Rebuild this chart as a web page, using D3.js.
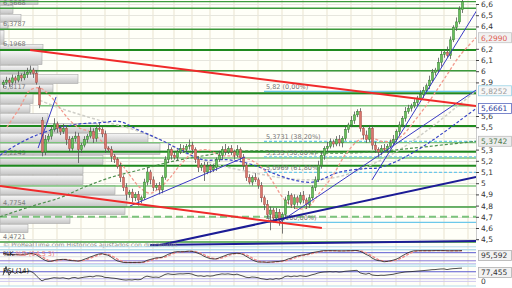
<!DOCTYPE html>
<html>
<head>
<meta charset="utf-8">
<script src="https://cdn.jsdelivr.net/npm/d3@7"></script>
<style>
  body { margin: 0; background: #fff; }
  svg { display: block; font-family: "DejaVu Sans", sans-serif; }
</style>
</head>
<body>
<svg id="chart" width="512" height="288"></svg>
<script>
// ---- data (prices, bar index = trading day) ----
var openP = [
  5.88,5.90,5.92,5.90,5.94,5.92,5.96,5.94,5.97,5.99,
  6.01,5.98,5.85,5.56,5.28,5.39,5.42,5.48,5.53,5.49,
  5.46,5.49,5.39,5.31,5.40,5.42,5.30,5.34,5.39,5.42,
  5.46,5.40,5.49,5.48,5.44,5.31,5.30,5.24,5.21,5.15,
  5.05,4.96,4.90,4.92,4.87,4.90,4.85,4.87,5.01,5.10,
  5.03,4.96,4.98,4.94,5.05,5.21,5.30,5.25,5.23,5.28,
  5.31,5.30,5.33,5.34,5.30,5.21,5.14,5.16,5.10,5.15,
  5.12,5.14,5.21,5.25,5.30,5.28,5.31,5.28,5.25,5.30,
  5.23,5.16,5.05,5.01,5.05,5.03,4.98,4.87,4.81,4.72,
  4.76,4.69,4.74,4.67,4.72,4.85,4.89,4.81,4.87,4.83,
  4.89,4.85,4.81,4.87,4.96,5.03,5.16,5.25,5.31,5.33,
  5.37,5.35,5.39,5.36,5.40,5.48,5.52,5.56,5.61,5.64,
  5.49,5.43,5.39,5.49,5.34,5.30,5.28,5.31,5.30,5.33,
  5.36,5.39,5.46,5.52,5.58,5.64,5.67,5.69,5.72,5.76,
  5.79,5.83,5.87,5.92,5.99,6.01,6.08,6.15,6.17,6.14,
  6.28,6.39,6.44,6.55
];
var closeP = [
  5.90,5.92,5.90,5.94,5.92,5.96,5.94,5.97,5.99,6.01,
  5.98,5.90,5.70,5.28,5.39,5.42,5.48,5.53,5.49,5.46,
  5.49,5.39,5.31,5.40,5.42,5.30,5.34,5.39,5.42,5.46,
  5.40,5.49,5.48,5.44,5.31,5.30,5.24,5.21,5.15,5.05,
  4.96,4.90,4.92,4.87,4.90,4.85,4.87,5.01,5.10,5.03,
  4.96,4.98,4.94,5.05,5.21,5.30,5.25,5.23,5.28,5.31,
  5.30,5.33,5.34,5.30,5.21,5.14,5.16,5.10,5.15,5.12,
  5.14,5.21,5.25,5.30,5.28,5.31,5.28,5.25,5.30,5.23,
  5.16,5.05,5.01,5.05,5.03,4.98,4.87,4.81,4.72,4.76,
  4.69,4.74,4.67,4.72,4.85,4.89,4.81,4.87,4.83,4.89,
  4.85,4.81,4.87,4.96,5.03,5.16,5.25,5.31,5.33,5.37,
  5.35,5.39,5.36,5.40,5.48,5.52,5.56,5.61,5.64,5.49,
  5.43,5.39,5.49,5.34,5.30,5.28,5.31,5.30,5.33,5.36,
  5.39,5.46,5.52,5.58,5.64,5.67,5.69,5.72,5.76,5.79,
  5.83,5.87,5.92,5.99,6.01,6.08,6.15,6.17,6.14,6.28,
  6.39,6.44,6.55,6.62
];
// wick lengths above / below the body
var wickUp = [
  0.02,0.03,0.02,0.03,0.02,0.04,0.02,0.03,0.04,0.04,
  0.02,0.03,0.02,0.03,0.04,0.02,0.03,0.05,0.02,0.03,
  0.04,0.02,0.03,0.02,0.04,0.03,0.02,0.03,0.02,0.04,
  0.03,0.02,0.05,0.02,0.03,0.02,0.03,0.02,0.02,0.03,
  0.02,0.04,0.02,0.03,0.02,0.03,0.02,0.03,0.04,0.02,
  0.03,0.02,0.03,0.02,0.03,0.04,0.02,0.03,0.02,0.04,
  0.03,0.02,0.05,0.03,0.02,0.03,0.02,0.03,0.04,0.02,
  0.03,0.02,0.04,0.03,0.05,0.02,0.03,0.02,0.04,0.02,
  0.03,0.02,0.03,0.02,0.04,0.02,0.03,0.02,0.04,0.03,
  0.02,0.04,0.03,0.02,0.03,0.04,0.02,0.03,0.02,0.03,
  0.04,0.02,0.03,0.02,0.03,0.04,0.03,0.02,0.04,0.03,
  0.02,0.03,0.04,0.02,0.03,0.02,0.04,0.03,0.02,0.03,
  0.02,0.04,0.03,0.02,0.03,0.02,0.03,0.04,0.02,0.03,
  0.04,0.02,0.03,0.02,0.04,0.03,0.02,0.03,0.02,0.04,
  0.03,0.02,0.04,0.03,0.02,0.04,0.03,0.02,0.05,0.03,
  0.02,0.04,0.03,0.04
];
var wickDn = [
  0.03,0.02,0.04,0.02,0.03,0.02,0.03,0.02,0.03,0.02,
  0.04,0.02,0.03,0.04,0.03,0.02,0.03,0.02,0.04,0.03,
  0.02,0.05,0.03,0.02,0.03,0.12,0.03,0.02,0.03,0.02,
  0.04,0.03,0.02,0.03,0.04,0.02,0.05,0.03,0.02,0.04,
  0.03,0.05,0.03,0.04,0.03,0.05,0.03,0.02,0.03,0.04,
  0.03,0.02,0.04,0.03,0.02,0.03,0.04,0.02,0.03,0.02,
  0.03,0.02,0.03,0.04,0.03,0.04,0.03,0.08,0.02,0.03,
  0.02,0.03,0.02,0.04,0.03,0.02,0.03,0.04,0.02,0.03,
  0.04,0.03,0.02,0.03,0.02,0.03,0.04,0.05,0.03,0.14,
  0.04,0.03,0.05,0.12,0.03,0.04,0.03,0.04,0.03,0.02,
  0.03,0.04,0.03,0.02,0.03,0.02,0.03,0.04,0.03,0.02,
  0.03,0.02,0.03,0.04,0.02,0.03,0.02,0.03,0.02,0.03,
  0.04,0.03,0.02,0.04,0.03,0.05,0.03,0.02,0.03,0.02,
  0.03,0.02,0.03,0.02,0.03,0.02,0.03,0.02,0.03,0.02,
  0.03,0.02,0.03,0.02,0.03,0.02,0.04,0.03,0.02,0.03,
  0.02,0.03,0.02,0.03
];

// volume by price (bin edges, top to bottom) and volume per bin
var vpEdges = [6.636,6.591,6.511,6.439,6.368,6.243,6.189,6.055,5.975,5.886,5.805,5.707,5.627,
               5.538,5.448,5.359,5.252,5.163,5.073,4.984,4.895,4.788,4.716,4.636,4.555];
var vpVolume = [38,13,21,8,4,43,42,38,78,53,33,30,48,97,148,160,103,83,83,115,127,125,70,28];
var vpLabels = [6.5668,6.3787,6.1968,5.8117,5.2249,4.7754,4.4721];

// horizontal support / resistance lines
var levels     = [6.621,6.562,6.374,6.189,6.004,5.803,5.692,5.511,5.362,5.281,5.225,5.156,4.975,4.788,4.70,4.475];
var levelKind  = ['mid','mid','mid','major','mid','major','minor','major','minor','major','minor','major','minor','mid','dash','mid'];
var levelStart = [-1,-1,-1,-1,-1,-1,12.3,-1,-1,-1,-1,-1,-1,-1,-1,-1];

// fibonacci retracement
var fibHigh = 5.82, fibLow = 4.65, fibStart = 87;
var fibRatios = [0, 0.382, 0.5, 0.618, 1];

// moving averages, read as [bar, price]
var maFast = [[1.3,5.50],[5.7,5.68],[9,5.83],[12.3,5.85],[15.7,5.78],[19,5.67],[22.3,5.56],[25.7,5.49],
  [29,5.46],[32.3,5.39],[35.7,5.30],[39,5.19],[42.3,5.07],[45.7,4.96],[49,4.91],[52.3,4.96],[55.7,5.05],
  [59,5.16],[63.3,5.27],[68,5.30],[72.3,5.25],[77.3,5.24],[82.3,5.21],[86.3,5.14],[90,5.01],[93.3,4.87],
  [97.3,4.78],[101.3,4.78],[105.7,4.92],[110,5.07],[114,5.25],[119,5.39],[123,5.40],[127.3,5.37],
  [132.3,5.41],[137.3,5.56],[142.3,5.74],[147.3,5.94],[152.3,6.14],[157.7,6.299]];
var maMid = [[-1,5.25],[5.7,5.36],[11.3,5.43],[18,5.49],[25.7,5.53],[32.3,5.54],[39,5.55],[44.7,5.48],
  [52.3,5.39],[59,5.30],[66.7,5.21],[74.7,5.21],[81.3,5.18],[85.7,5.14],[90,5.09],[96.7,5.03],[103.3,5.01],
  [112.3,5.10],[120.7,5.13],[125.7,5.14],[132.3,5.21],[139,5.31],[145.7,5.43],[152.3,5.56],[157.7,5.666]];
var maSlow = [[12.3,5.74],[19,5.67],[32.3,5.56],[42.3,5.49],[52.3,5.39],[62.3,5.25],[72.3,5.16],[82.3,5.10],
  [92.3,5.05],[102.3,5.03],[112.3,5.06],[122.3,5.16],[132.3,5.30],[142.3,5.49],[150.7,5.67],[157.7,5.825]];
var maLong = [[-1,4.70],[9,4.79],[19,4.87],[26.7,4.96],[35.7,5.05],[45.7,5.12],[55.7,5.19],[65.7,5.24],
  [75.7,5.28],[85.7,5.29],[95.7,5.28],[105.7,5.27],[115.7,5.27],[128,5.29],[139,5.32],[157.7,5.374]];

// trend lines, [[bar, price], [bar, price]]
var redLines  = [[[9,6.189],[157.7,5.689]], [[-1,4.975],[106.3,4.60]]];
var navyLines = [[[39,4.371],[157.7,5.055]], [[49,4.448],[157.7,4.484]]];
var blueLines = [[[11.7,5.314],[17.7,5.770]], [[42.3,4.796],[80.7,5.234]],
                 [[92.3,4.654],[157.7,5.832]], [[123,5.029],[158,6.546]]];

// last values shown on the right scale
var lastValues = [6.2990, 5.8252, 5.6661, 5.3742];
var lastKind   = ['fast', 'slow', 'mid', 'long'];

// right scale ticks (the ones the value boxes cover are left out)
var priceTicks = [4.5,4.6,4.7,4.8,4.9,5.0,5.1,5.2,5.3,5.5,5.6,5.9,6.0,6.1,6.2,6.4,6.5,6.6];

var gridBars = [2,10,18,26,34,42,50,57,63,69,77,85,93,100,108,116,123,131,139,147,155];

// ---- layout ----
var plotR = 476;
var svg = d3.select('#chart');
var comma = function(s) { return String(s).replace('.', ','); };

var x = d3.scaleLinear().domain([-1, 157.67]).range([0, plotR]);
var y = d3.scaleLinear().domain([4.5, 6.6]).range([239.2, 4]);
var yStoch = d3.scaleLinear().domain([0, 100]).range([263.5, 250]);
var yRsi = d3.scaleLinear().domain([0, 100]).range([284, 266.5]);
var vx = d3.scaleLinear().domain([0, 160]).range([0, 160]);

var defs = svg.append('defs');
defs.append('clipPath').attr('id', 'clipP').append('rect')
  .attr('x', 0).attr('y', 0).attr('width', plotR).attr('height', 246.5);
var grad = defs.append('linearGradient').attr('id', 'vpg')
  .attr('x1', 0).attr('y1', 0).attr('x2', 0).attr('y2', 1);
grad.append('stop').attr('offset', '0%').attr('stop-color', '#f6f6f6');
grad.append('stop').attr('offset', '100%').attr('stop-color', '#c6c6c6');

// panel backgrounds
svg.append('rect').attr('width', 512).attr('height', 288).attr('fill', '#fff');
[[0, 246.5], [249.5, 264.5], [266, 286]].forEach(function(p) {
  svg.append('rect').attr('x', 0).attr('y', p[0]).attr('width', plotR).attr('height', p[1] - p[0])
    .attr('fill', '#fffff8');
});

// vertical grid
svg.append('g').selectAll('line').data(gridBars).enter().append('line')
  .attr('x1', function(d) { return x(d); }).attr('x2', function(d) { return x(d); })
  .attr('y1', 0).attr('y2', 286).attr('stroke', '#e9e3cf').attr('stroke-width', 1);

// horizontal grid
svg.append('g').selectAll('line').data(d3.range(45, 67).map(function(d) { return d / 10; })).enter().append('line')
  .attr('x1', 0).attr('x2', plotR)
  .attr('y1', function(d) { return Math.round(y(d)) + 0.5; }).attr('y2', function(d) { return Math.round(y(d)) + 0.5; })
  .attr('stroke', '#e6e6de');

var main = svg.append('g').attr('clip-path', 'url(#clipP)');

// volume profile
var vp = main.append('g');
vp.selectAll('rect').data(vpVolume).enter().append('rect')
  .attr('x', 0)
  .attr('y', function(d, i) { return y(vpEdges[i]) + 0.5; })
  .attr('width', function(d) { return vx(d); })
  .attr('height', function(d, i) { return Math.max(1, y(vpEdges[i + 1]) - y(vpEdges[i]) - 1); })
  .attr('fill', 'url(#vpg)').attr('stroke', '#a8a8a8').attr('stroke-width', 0.6);

vp.selectAll('text').data(vpLabels).enter().append('text')
  .attr('x', 3).attr('y', function(d) { return y(d) - 3; })
  .attr('font-size', 6.5).attr('fill', '#7a7a7a')
  .text(function(d) { return comma(d); });

// support / resistance
var levelStyle = {
  major: { c: '#1f8a1f', w: 2, dash: null },
  mid:   { c: '#3c9a3c', w: 1.4, dash: null },
  minor: { c: '#7cc47c', w: 1.4, dash: null },
  dash:  { c: '#7cc47c', w: 2, dash: '7,4' }
};
main.append('g').selectAll('line').data(levels).enter().append('line')
  .attr('x1', function(d, i) { return x(levelStart[i]); }).attr('x2', plotR)
  .attr('y1', function(d) { return y(d); }).attr('y2', function(d) { return y(d); })
  .attr('stroke', function(d, i) { return levelStyle[levelKind[i]].c; })
  .attr('stroke-width', function(d, i) { return levelStyle[levelKind[i]].w; })
  .attr('stroke-dasharray', function(d, i) { return levelStyle[levelKind[i]].dash; });

// fibonacci
var fib = main.append('g');
fibRatios.forEach(function(r) {
  var v = fibHigh - r * (fibHigh - fibLow);
  var edge = (r === 0 || r === 1);
  fib.append('line').attr('x1', x(fibStart)).attr('x2', plotR)
    .attr('y1', y(v)).attr('y2', y(v))
    .attr('stroke', '#6cc8ea').attr('stroke-width', 1.2)
    .attr('stroke-dasharray', edge ? null : '3,2');
  fib.append('text').attr('x', x(fibStart) + 2).attr('y', y(v) - 2)
    .attr('font-size', 6.5).attr('fill', '#777')
    .text(comma(d3.format('.4~f')(v)) + ' (' + comma(d3.format('.2f')(r * 100)) + '%)');
});

// moving averages
var maLine = d3.line().x(function(d) { return x(d[0]); }).y(function(d) { return y(d[1]); })
  .curve(d3.curveCatmullRom);
var maStyle = [[maSlow, '#cfcfc8', 1.5], [maLong, '#4e8f4e', 1.2], [maMid, '#3a46c6', 1.2], [maFast, '#f29a8e', 1.3]];
maStyle.forEach(function(m) {
  main.append('path').datum(m[0]).attr('d', maLine)
    .attr('fill', 'none').attr('stroke', m[1]).attr('stroke-width', m[2]).attr('stroke-dasharray', '3,2');
});

// candles
var bars = d3.range(closeP.length);
var cg = main.append('g');
cg.selectAll('line').data(bars).enter().append('line')
  .attr('x1', function(i) { return Math.round(x(i)) + 0.5; })
  .attr('x2', function(i) { return Math.round(x(i)) + 0.5; })
  .attr('y1', function(i) { return y(Math.max(openP[i], closeP[i]) + wickUp[i]); })
  .attr('y2', function(i) { return y(Math.min(openP[i], closeP[i]) - wickDn[i]); })
  .attr('stroke', '#555').attr('stroke-width', 0.8);
cg.selectAll('rect').data(bars).enter().append('rect')
  .attr('x', function(i) { return Math.round(x(i)) - 0.5; })
  .attr('y', function(i) { return y(Math.max(openP[i], closeP[i])); })
  .attr('width', 2)
  .attr('height', function(i) { return Math.max(1, Math.abs(y(openP[i]) - y(closeP[i]))); })
  .attr('fill', function(i) { return closeP[i] >= openP[i] ? '#6abf5a' : '#d9766c'; })
  .attr('stroke', function(i) { return closeP[i] >= openP[i] ? '#2f7d2f' : '#a84a44'; })
  .attr('stroke-width', 0.5);

// trend lines
function drawLines(data, color, width) {
  main.append('g').selectAll('line').data(data).enter().append('line')
    .attr('x1', function(d) { return x(d[0][0]); }).attr('y1', function(d) { return y(d[0][1]); })
    .attr('x2', function(d) { return x(d[1][0]); }).attr('y2', function(d) { return y(d[1][1]); })
    .attr('stroke', color).attr('stroke-width', width);
}
drawLines(blueLines, '#3a3ac4', 1);
drawLines(navyLines, '#1c1c96', 2);
drawLines(redLines, '#f02a2a', 2);

svg.append('text').attr('x', 3).attr('y', 247).attr('font-size', 6.2).attr('fill', '#8a8a8a')
  .text('\u00a9 ProRealTime.com  Hist\u00f3ricos ajustados con dividendos');

// panel borders
[246.8, 249.5, 264.8, 266.3, 286].forEach(function(v) {
  svg.append('line').attr('x1', 0).attr('x2', plotR).attr('y1', v).attr('y2', v)
    .attr('stroke', '#b4dcea').attr('stroke-width', 1);
});

// ---- stochastic (14 5 3) and RSI (14) from the closes ----
var hiP = bars.map(function(i) { return Math.max(openP[i], closeP[i]) + wickUp[i]; });
var loP = bars.map(function(i) { return Math.min(openP[i], closeP[i]) - wickDn[i]; });
var rawK = bars.map(function(i) {
  var s = Math.max(0, i - 13);
  var hh = d3.max(hiP.slice(s, i + 1)), ll = d3.min(loP.slice(s, i + 1));
  return hh === ll ? 50 : (closeP[i] - ll) / (hh - ll) * 100;
});
function sma(a, n) {
  return a.map(function(v, i) { return d3.mean(a.slice(Math.max(0, i - n + 1), i + 1)); });
}
var kLine = sma(rawK, 5);
var dLine = sma(kLine, 3);

var rsi = [];
var ag = 0, al = 0;
bars.forEach(function(i) {
  if (i === 0) { rsi.push(50); return; }
  var ch = closeP[i] - closeP[i - 1];
  var n = Math.min(i, 14);
  ag = (ag * (n - 1) + Math.max(ch, 0)) / n;
  al = (al * (n - 1) + Math.max(-ch, 0)) / n;
  rsi.push(al === 0 ? 100 : 100 - 100 / (1 + ag / al));
});

// reference lines
[[100, '#b4dcea'], [80, '#5a5ad0'], [50, '#dddde6'], [20, '#8878d8'], [0, '#cfc8ef']].forEach(function(r) {
  svg.append('line').attr('x1', 0).attr('x2', plotR).attr('y1', yStoch(r[0])).attr('y2', yStoch(r[0]))
    .attr('stroke', r[1]).attr('stroke-width', 1);
});
[[70, '#5a5ad0'], [50, '#e2e2ea'], [30, '#b9b0ec'], [15, '#cfc8ef']].forEach(function(r) {
  svg.append('line').attr('x1', 0).attr('x2', plotR).attr('y1', yRsi(r[0])).attr('y2', yRsi(r[0]))
    .attr('stroke', r[1]).attr('stroke-width', 1);
});

var stochD = d3.line().x(function(d, i) { return x(i); }).y(function(d) { return yStoch(d); });
var rsiLine = d3.line().x(function(d, i) { return x(i); }).y(function(d) { return yRsi(d); });
svg.append('path').datum(dLine).attr('d', stochD).attr('fill', 'none')
  .attr('stroke', '#f08a8a').attr('stroke-width', 1.4).attr('stroke-dasharray', '3,1.5');
svg.append('path').datum(kLine).attr('d', stochD).attr('fill', 'none')
  .attr('stroke', '#222').attr('stroke-width', 0.8);
svg.append('path').datum(rsi).attr('d', rsiLine).attr('fill', 'none')
  .attr('stroke', '#222').attr('stroke-width', 0.8);

var stText = svg.append('text').attr('x', 3).attr('y', 255.5).attr('font-size', 6.5);
stText.append('tspan').attr('fill', '#111').text('%K ');
stText.append('tspan').attr('fill', '#e87a7a').text('%D (14 5 3)');
svg.append('text').attr('x', 3).attr('y', 272.5).attr('font-size', 6.5).attr('fill', '#111').text('RSI (14)');

// ---- right scale ----
var axis = svg.append('g').attr('transform', 'translate(' + plotR + ',0)')
  .call(d3.axisRight(y).tickValues(priceTicks)
    .tickSize(3).tickPadding(2)
    .tickFormat(function(d) { return comma(+d.toFixed(1)); }));
axis.select('.domain').attr('stroke', '#ccc');
axis.selectAll('.tick line').attr('stroke', '#444');
axis.selectAll('.tick text').attr('font-size', 7.5).attr('fill', '#333')
  .attr('font-family', '"DejaVu Sans", sans-serif');

var boxStyle = {
  fast: { t: '#e05a50', f: '#f1f1f1', s: '#c4c4c4' },
  slow: { t: '#9a9a9a', f: '#f7f7f7', s: '#9ad2e6' },
  mid:  { t: '#2a3a9a', f: '#ffffff', s: '#5a6ac0' },
  long: { t: '#4d7a4d', f: '#ececec', s: '#bdbdbd' },
  ind:  { t: '#333333', f: '#f2f2f2', s: '#b0b0b0' }
};
function valueBox(yc, label, kind) {
  var st = boxStyle[kind];
  svg.append('rect').attr('x', 478.5).attr('y', yc - 5).attr('width', 33).attr('height', 10)
    .attr('fill', st.f).attr('stroke', st.s).attr('stroke-width', 0.8);
  svg.append('text').attr('x', 481).attr('y', yc + 2.8).attr('font-size', 7.5).attr('fill', st.t).text(label);
}
lastValues.forEach(function(v, i) { valueBox(y(v), comma(d3.format('.4f')(v)), lastKind[i]); });
valueBox(yStoch(kLine[kLine.length - 1]) + 5, comma(d3.format('.3f')(95.592)), 'ind');
valueBox(yRsi(77.455) + 2, comma(d3.format('.3f')(77.455)), 'ind');
svg.append('text').attr('x', 481).attr('y', yRsi(0)).attr('font-size', 7.5).attr('fill', '#333').text('0');
</script>
</body>
</html>
